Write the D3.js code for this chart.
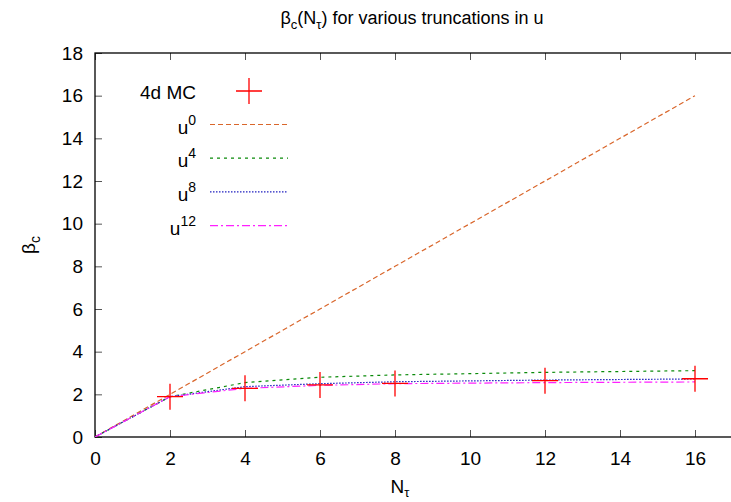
<!DOCTYPE html>
<html>
<head>
<meta charset="utf-8">
<script src="https://cdn.jsdelivr.net/npm/d3@7"></script>
<style>
body { margin: 0; background: #fff; }
text { font-family: "Liberation Sans", Arial, sans-serif; fill: #000; }
</style>
</head>
<body>
<div id="chart-area"></div>
<script>
// data
var nTau = [0, 2, 4, 6, 8, 12, 16];
var u0 = [0, 2, 4, 6, 8, 12, 16];
var u4 = [0, 1.89, 2.55, 2.80, 2.91, 3.03, 3.11];
var u8 = [0, 1.89, 2.36, 2.50, 2.59, 2.67, 2.72];
var u12 = [0, 1.89, 2.28, 2.42, 2.50, 2.55, 2.58];

var mcN = [2, 4, 6, 8, 12, 16];
var mcBeta = [1.89, 2.28, 2.44, 2.51, 2.64, 2.73];

var xTicks = [0, 2, 4, 6, 8, 10, 12, 14, 16, 18];
var yTicks = [0, 2, 4, 6, 8, 10, 12, 14, 16, 18];

var width = 731;
var height = 502;

var svg = d3.select("#chart-area").append("svg")
.attr("width", width)
.attr("height", height)

var x = d3.scaleLinear()
.domain([0, 18])
.range([95, 770])

var y = d3.scaleLinear()
.domain([0, 18])
.range([437, 53])

svg.append("clipPath").attr("id", "plot-clip")
.append("rect")
.attr("x", x(0)).attr("y", y(18))
.attr("width", x(18) - x(0)).attr("height", y(0) - y(18))

// axes (ticks point inwards, mirrored on top)
var xAxis = svg.append("g")
.attr("transform", "translate(0," + y(0) + ")")
.call(d3.axisBottom(x).tickValues(xTicks.slice(0, -1)).tickSize(-7).tickPadding(15))

var xAxisTop = svg.append("g")
.attr("transform", "translate(0," + y(18) + ")")
.call(d3.axisTop(x).tickValues(xTicks).tickSize(-7).tickFormat(""))

var yAxis = svg.append("g")
.attr("transform", "translate(" + x(0) + ",0)")
.call(d3.axisLeft(y).tickValues(yTicks).tickSize(-7).tickPadding(12))

svg.selectAll(".domain").remove()
svg.selectAll(".tick line").attr("stroke", "#555").attr("stroke-width", 1)
svg.selectAll(".tick text")
.style("font-family", "'Liberation Sans', Arial, sans-serif")
.style("font-size", "19px")
.attr("fill", "#000")

// frame
svg.append("rect")
.attr("x", x(0)).attr("y", y(18))
.attr("width", x(18) - x(0)).attr("height", y(0) - y(18))
.attr("fill", "none")
.attr("stroke", "#000")
.attr("stroke-width", 1.3)

// title
var title = svg.append("text")
.attr("x", 412)
.attr("y", 24)
.attr("text-anchor", "middle")
.attr("font-size", "18px")
title.append("tspan").text("β")
title.append("tspan").attr("font-size", "13px").attr("dy", 5).text("c")
title.append("tspan").attr("dy", -5).text("(N")
title.append("tspan").attr("font-size", "13px").attr("dy", 5).text("τ")
title.append("tspan").attr("dy", -5).text(") for various truncations in u")

// x label
var xLabel = svg.append("text")
.attr("x", 400)
.attr("y", 493)
.attr("text-anchor", "middle")
.attr("font-size", "19px")
xLabel.append("tspan").text("N")
xLabel.append("tspan").attr("font-size", "13px").attr("dy", 4).text("τ")

// y label
var yLabel = svg.append("text")
.attr("transform", "translate(35,245) rotate(-90)")
.attr("text-anchor", "middle")
.attr("font-size", "19px")
yLabel.append("tspan").text("β")
yLabel.append("tspan").attr("font-size", "14px").attr("dy", 5).text("c")

var series = [
  {name: "0", values: u0, color: "#d9662b", dash: "5,3"},
  {name: "4", values: u4, color: "#0a8a0a", dash: "3,4"},
  {name: "8", values: u8, color: "#2020c0", dash: "1.5,1.5"},
  {name: "12", values: u12, color: "#ff20ff", dash: "8,3,2,3"}
]

var line = d3.line()
.x((d, i) => x(nTau[i]))
.y(d => y(d))

var plot = svg.append("g").attr("clip-path", "url(#plot-clip)")

series.forEach(s => {
  plot.append("path")
  .attr("d", line(s.values))
  .attr("fill", "none")
  .attr("stroke", s.color)
  .attr("stroke-width", 1.2)
  .attr("stroke-dasharray", s.dash)
})

// MC points as big crosses
var crossSize = 13
mcN.forEach((n, i) => {
  var cx = x(n), cy = y(mcBeta[i])
  plot.append("path")
  .attr("d", "M" + (cx - crossSize) + "," + cy + "H" + (cx + crossSize) +
    "M" + cx + "," + (cy - crossSize) + "V" + (cy + crossSize))
  .attr("stroke", "#ff0000")
  .attr("stroke-width", 1.3)
  .attr("fill", "none")
})

// legend
var legend = svg.append("g")

legend.append("text")
.attr("x", 196).attr("y", 99)
.attr("text-anchor", "end")
.attr("font-size", "19px")
.text("4d MC")

legend.append("path")
.attr("d", "M" + (249 - crossSize) + ",91H" + (249 + crossSize) + "M249," + (91 - crossSize) + "V" + (91 + crossSize))
.attr("stroke", "#ff0000")
.attr("stroke-width", 1.3)

series.forEach((s, i) => {
  var ly = 124.5 + i * 33.7
  var t = legend.append("text")
  .attr("x", 196).attr("y", ly + 9)
  .attr("text-anchor", "end")
  .attr("font-size", "19px")
  t.append("tspan").text("u")
  t.append("tspan").attr("font-size", "14px").attr("dy", -9).text(s.name)

  legend.append("line")
  .attr("x1", 210).attr("x2", 288)
  .attr("y1", ly).attr("y2", ly)
  .attr("stroke", s.color)
  .attr("stroke-width", 1.2)
  .attr("stroke-dasharray", s.dash)
})
</script>
</body>
</html>
